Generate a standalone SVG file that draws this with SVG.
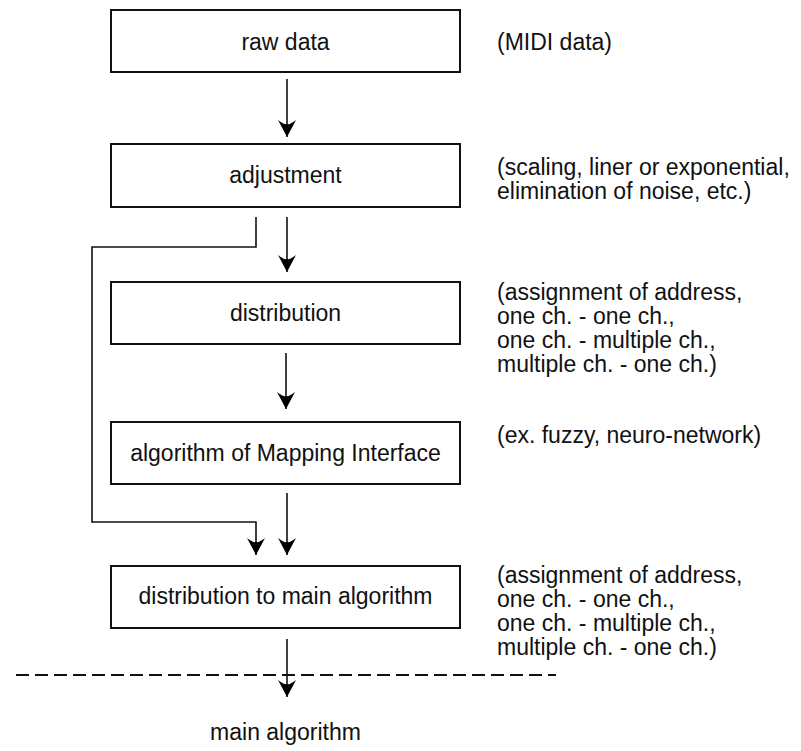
<svg xmlns="http://www.w3.org/2000/svg" width="801" height="751" viewBox="0 0 801 751">
<defs>
<marker id="ah" markerUnits="userSpaceOnUse" markerWidth="20" markerHeight="20" viewBox="-18 -10 20 20" refX="0" refY="0" orient="auto">
<path d="M-17,-9 Q-12,-3 -13,0 Q-12,3 -17,9 L0,0 Z" fill="#000"/>
</marker>
</defs>
<style>
.box{fill:#fff;stroke:#111;stroke-width:2}
.t{font-family:"Liberation Sans",Arial,sans-serif;font-size:23px;fill:#111}
.c{text-anchor:middle}
.ln{fill:none;stroke:#111;stroke-width:1.6}
.dash{fill:none;stroke:#111;stroke-width:2;stroke-dasharray:13 6}
</style>
<rect width="801" height="751" fill="#fff"/>
<g id="connectors">
<line class="ln" x1="287" y1="79" x2="287" y2="137" marker-end="url(#ah)"/>
<line class="ln" x1="287" y1="217" x2="287" y2="272" marker-end="url(#ah)"/>
<line class="ln" x1="286" y1="353" x2="286" y2="409" marker-end="url(#ah)"/>
<line class="ln" x1="287" y1="493" x2="287" y2="555" marker-end="url(#ah)"/>
<polyline class="ln" points="256,217 256,247 92,247 92,522 256,522 256,555" marker-end="url(#ah)"/>
<line class="ln" x1="287" y1="639" x2="287" y2="697" marker-end="url(#ah)"/>
<line class="dash" x1="16" y1="675" x2="556" y2="675"/>
</g>
<g id="raw-data"><rect class="box" x="111" y="10" width="349" height="62"/><text class="t c" x="285.5" y="50">raw data</text></g>
<g id="adjustment"><rect class="box" x="111" y="144" width="349" height="63"/><text class="t c" x="285.5" y="183">adjustment</text></g>
<g id="distribution"><rect class="box" x="111" y="282" width="349" height="62"/><text class="t c" x="285.5" y="321">distribution</text></g>
<g id="mapping"><rect class="box" x="111" y="422" width="349" height="62"/><text class="t c" x="285.5" y="461">algorithm of Mapping Interface</text></g>
<g id="dist-main"><rect class="box" x="111" y="566" width="349" height="62"/><text class="t c" x="285.5" y="604">distribution to main algorithm</text></g>
<g id="main-algorithm"><text class="t c" x="285.5" y="740">main algorithm</text></g>
<g id="notes">
<text class="t" x="497" y="50">(MIDI data)</text>
<text class="t" x="497" y="175">(scaling, liner or exponential,</text>
<text class="t" x="497" y="199">elimination of noise, etc.)</text>
<text class="t" x="497" y="300">(assignment of address,</text>
<text class="t" x="497" y="324">one ch. - one ch.,</text>
<text class="t" x="497" y="348">one ch. - multiple ch.,</text>
<text class="t" x="497" y="372">multiple ch. - one ch.)</text>
<text class="t" x="497" y="443">(ex. fuzzy, neuro-network)</text>
<text class="t" x="497" y="583">(assignment of address,</text>
<text class="t" x="497" y="607">one ch. - one ch.,</text>
<text class="t" x="497" y="631">one ch. - multiple ch.,</text>
<text class="t" x="497" y="655">multiple ch. - one ch.)</text>
</g>
</svg>
